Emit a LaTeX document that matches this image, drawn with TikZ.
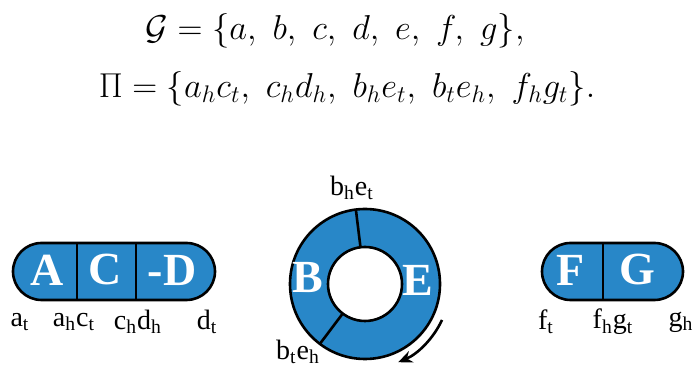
\documentclass[tikz,border=0pt]{standalone}
\usepackage{amsmath,amssymb}
\usepackage{fontspec}
\newfontfamily\labelfont{Liberation Serif}
\usepackage{tikz}
\usetikzlibrary{arrows.meta,calc,positioning}
\definecolor{geneblue}{RGB}{40,135,200}
\tikzset{
  >=stealth,
  line cap=round,
  line join=round,
  outline/.style={draw=black, line width=1.3pt},
  blob/.style={outline, fill=geneblue},
  letter/.style={text=white, font=\labelfont\bfseries\fontsize{23}{26}\selectfont, inner sep=0pt},
  endlabel/.style={font=\labelfont\fontsize{14}{16}\selectfont, inner sep=0pt},
  formula/.style={font=\fontsize{17}{20}\selectfont, inner sep=0pt}
}

\begin{document}
\begin{tikzpicture}[x=0.5pt,y=0.5pt]
    \useasboundingbox (0,0) rectangle (695,368);

    % the two sets
    \node[formula] (genes) at (335,337) {$\mathcal{G}=\{a,\ b,\ c,\ d,\ e,\ f,\ g\},$};
    \node[formula] (adj) at (347,279) {$\Pi=\{a_hc_t,\ c_hd_h,\ b_he_t,\ b_te_h,\ f_hg_t\}.$};

    % linear chromosome A C -D
    \coordinate (L1) at (41.5,68);
    \coordinate (L2) at (186.5,68);
    \filldraw[blob] (L1) -- (L2) arc[start angle=-90, end angle=90, radius=28.5]
      -- ++(-145,0) arc[start angle=90, end angle=270, radius=28.5] -- cycle;
    \draw[outline] (77,68) -- (77,125);
    \draw[outline] (136,68) -- (136,125);
    \node[letter] (A) at (47,98) {A};
    \node[letter] (C) at (105,98) {C};
    \node[letter] (D) at (172,98) {-D};
    \node[endlabel] (at) at (20,46) {a\textsubscript{t}};
    \node[endlabel] (ahct) at (74,46) {a\textsubscript{h}c\textsubscript{t}};
    \node[endlabel] (chdh) at (138,46) {c\textsubscript{h}d\textsubscript{h}};
    \node[endlabel] (dt) at (207,46) {d\textsubscript{t}};

    % circular chromosome B E
    \coordinate (O) at (365,84);
    \filldraw[blob] (O) circle[radius=75];
    \filldraw[outline, fill=white] (O) circle[radius=37];
    \draw[outline] ($(O)+(97:37)$) -- ($(O)+(97:75)$);
    \draw[outline] ($(O)+(233:37)$) -- ($(O)+(233:75)$);
    \node[letter] (B) at (308,90) {B};
    \node[letter] (E) at (418,88) {E};
    \node[endlabel] (bhet) at (352,180) {b\textsubscript{h}e\textsubscript{t}};
    \node[endlabel] (bteh) at (298,16) {b\textsubscript{t}e\textsubscript{h}};
    \coordinate (R0) at ($(O)+(-25:85)$);
    \draw[-{Stealth[length=7pt,width=6pt]}, line width=1.3pt] (R0) arc[start angle=-25, end angle=-67, radius=85];

    % linear chromosome F G
    \coordinate (R1) at (570.5,68);
    \coordinate (R2) at (654.5,68);
    \filldraw[blob] (R1) -- (R2) arc[start angle=-90, end angle=90, radius=28.5]
      -- ++(-84,0) arc[start angle=90, end angle=270, radius=28.5] -- cycle;
    \draw[outline] (603,68) -- (603,125);
    \node[letter] (F) at (571,98) {F};
    \node[letter] (G) at (637,98) {G};
    \node[endlabel] (ft) at (546,46) {f\textsubscript{t}};
    \node[endlabel] (fhgt) at (613,46) {f\textsubscript{h}g\textsubscript{t}};
    \node[endlabel] (gh) at (681,46) {g\textsubscript{h}};
\end{tikzpicture}
\end{document}
